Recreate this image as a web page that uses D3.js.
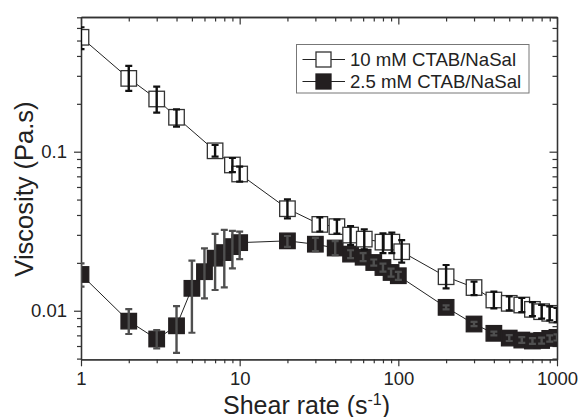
<!DOCTYPE html>
<html><head><meta charset="utf-8">
<script src="https://cdn.jsdelivr.net/npm/d3@7"></script>
<style>body{margin:0;background:#fff}svg{display:block}text{font-family:Arial,"Liberation Sans",sans-serif;fill:#222}</style>
</head><body><svg id="c" width="580" height="417"></svg>
<script>
const shearOpen = [1,2,3,4,7,9,10,20,32,41,50,61,80,91,105,200,300,400,500,600,700,800,900,1000];
const viscOpen = [0.524,0.289,0.2145,0.1646,0.1013,0.0825,0.0724,0.0438,0.0349,0.0338,0.0299,0.0282,0.0270,0.0270,0.0235,0.01636,0.01399,0.01168,0.01113,0.01086,0.0102,0.00986,0.00963,0.0094];
const errLowOpen = [0.441,0.241,0.176,0.1437,0.0930,0.0745,0.0648,0.0381,0.0315,0.0305,0.0259,0.0243,0.0230,0.0230,0.02004,0.01383,0.01255,0.01035,0.01006,0.00981,0.00926,0.00891,0.0087,0.00849];
const errHighOpen = [0.606,0.346,0.2564,0.1848,0.1102,0.0913,0.0805,0.0502,0.0386,0.0374,0.0341,0.0325,0.0307,0.0310,0.0278,0.01939,0.01522,0.01317,0.01232,0.01202,0.01134,0.0109,0.01066,0.0104];

const shearFilled = [1,2,3,4,5,6,7,8,9,10,20,30,40,50,60,70,80,90,100,200,300,400,500,600,700,800,900,1000];
const viscFilled = [0.0169,0.0086,0.00664,0.00804,0.01383,0.0176,0.0214,0.0232,0.0253,0.0268,0.0275,0.0262,0.0248,0.0227,0.0217,0.0201,0.0187,0.0174,0.0166,0.0105,0.00825,0.00721,0.00673,0.00654,0.00645,0.0065,0.0067,0.0068];
const errLowFilled = [0.01416,0.00714,0.0058,0.00544,0.00727,0.01197,0.0135,0.01404,0.01848,0.02114,0.0252,0.0237,0.0224,0.0214,0.0205,0.0192,0.01764,0.0164,0.01564,0.0102,0.0080,0.0070,0.00645,0.00627,0.00618,0.00622,0.0064,0.0065];
const errHighFilled = [0.01987,0.01025,0.00756,0.0107,0.02063,0.0247,0.0304,0.0322,0.0318,0.0314,0.0295,0.0287,0.0274,0.0240,0.0230,0.0210,0.0198,0.0184,0.01756,0.0108,0.0085,0.0074,0.00703,0.00683,0.00673,0.00678,0.0070,0.0071];

const xMajorTicks = [1,10,100,1000];
const xTickLabels = ["1","10","100","1000"];
const yMajorTicks = [0.01,0.1];
const yTickLabels = ["0.01","0.1"];
const seriesNames = ["10 mM CTAB/NaSal","2.5 mM CTAB/NaSal"];

const L=81, R=557, T=17, B=359.3;
const svg = d3.select("#c");
const x = d3.scaleLog().domain([1,1000]).range([L,R]);
const y = d3.scaleLog().domain([0.00495,0.703]).range([B,T]);

const xMinor = x.ticks().filter(v=>!xMajorTicks.some(m=>Math.abs(m-v)<1e-9));
const yMinor = y.ticks().filter(v=>!yMajorTicks.some(m=>Math.abs(m-v)<1e-12));

svg.append("defs").append("clipPath").attr("id","plot").append("rect")
  .attr("x",L).attr("y",T).attr("width",R-L).attr("height",B-T);

const axisColor="#333";
function styleAxis(g){
  g.select(".domain").attr("stroke",axisColor).attr("stroke-width",1.3);
  g.selectAll(".tick line").attr("stroke",axisColor).attr("stroke-width",1.2);
  g.selectAll(".tick text").style("font-size","18.5px").attr("fill","#222");
}
// bottom
svg.append("g").attr("transform",`translate(0,${B})`)
  .call(d3.axisBottom(x).tickValues(xMinor).tickSize(4).tickSizeOuter(0).tickFormat(""))
  .call(styleAxis);
svg.append("g").attr("transform",`translate(0,${B})`)
  .call(d3.axisBottom(x).tickValues(xMajorTicks).tickSize(7).tickSizeOuter(0).tickPadding(6)
    .tickFormat((d,i)=>xTickLabels[i]))
  .call(styleAxis);
// top
svg.append("g").attr("transform",`translate(0,${T})`)
  .call(d3.axisTop(x).tickValues(xMinor).tickSize(-4.5).tickSizeOuter(0).tickFormat(""))
  .call(styleAxis);
svg.append("g").attr("transform",`translate(0,${T})`)
  .call(d3.axisTop(x).tickValues(xMajorTicks).tickSize(-7.5).tickSizeOuter(0).tickFormat(""))
  .call(styleAxis);
// left
svg.append("g").attr("transform",`translate(${L},0)`)
  .call(d3.axisLeft(y).tickValues(yMinor).tickSize(4).tickSizeOuter(0).tickFormat(""))
  .call(styleAxis);
svg.append("g").attr("transform",`translate(${L},0)`)
  .call(d3.axisLeft(y).tickValues(yMajorTicks).tickSize(7).tickSizeOuter(0).tickPadding(7)
    .tickFormat((d,i)=>yTickLabels[i]))
  .call(styleAxis);
// right
svg.append("g").attr("transform",`translate(${R},0)`)
  .call(d3.axisRight(y).tickValues(yMinor).tickSize(-4.5).tickSizeOuter(0).tickFormat(""))
  .call(styleAxis);
svg.append("g").attr("transform",`translate(${R},0)`)
  .call(d3.axisRight(y).tickValues(yMajorTicks).tickSize(-7.5).tickSizeOuter(0).tickFormat(""))
  .call(styleAxis);

const plot = svg.append("g").attr("clip-path","url(#plot)");
const line = d3.line().x(d=>x(d.s)).y(d=>y(d.v));
const MS=15.5, CAP=3.5;

function drawSeries(sh,vi,lo,hi,opts){
  const data = sh.map((s,i)=>({s,v:vi[i],lo:lo[i],hi:hi[i]}));
  plot.append("path").datum(data).attr("d",line).attr("fill","none")
    .attr("stroke","#222").attr("stroke-width",1);
  plot.selectAll(null).data(data).enter().append("rect")
    .attr("x",d=>x(d.s)-MS/2).attr("y",d=>y(d.v)-MS/2)
    .attr("width",MS).attr("height",MS)
    .attr("fill",opts.fill).attr("stroke",opts.stroke).attr("stroke-width",1.3);
  const eb = plot.selectAll(null).data(data).enter().append("g")
    .attr("stroke",opts.err).attr("fill","none");
  eb.append("line").attr("x1",d=>x(d.s)).attr("x2",d=>x(d.s))
    .attr("y1",d=>y(d.lo)).attr("y2",d=>y(d.hi)).attr("stroke-width",2.4);
  eb.append("line").attr("x1",d=>x(d.s)-CAP).attr("x2",d=>x(d.s)+CAP)
    .attr("y1",d=>y(d.lo)).attr("y2",d=>y(d.lo)).attr("stroke-width",2.2);
  eb.append("line").attr("x1",d=>x(d.s)-CAP).attr("x2",d=>x(d.s)+CAP)
    .attr("y1",d=>y(d.hi)).attr("y2",d=>y(d.hi)).attr("stroke-width",2.2);
}
drawSeries(shearFilled,viscFilled,errLowFilled,errHighFilled,{fill:"#231f20",stroke:"#231f20",err:"#4f4f4f"});
drawSeries(shearOpen,viscOpen,errLowOpen,errHighOpen,{fill:"#fff",stroke:"#333",err:"#111"});

// legend
const lg = svg.append("g");
lg.append("rect").attr("x",296.5).attr("y",44.5).attr("width",232.5).attr("height",48.5)
  .attr("fill","#fff").attr("stroke","#777").attr("stroke-width",1);
const rows=[{y:59.5,fill:"#fff",stroke:"#333"},{y:81.5,fill:"#231f20",stroke:"#231f20"}];
rows.forEach((r,i)=>{
  lg.append("line").attr("x1",302.5).attr("x2",345).attr("y1",r.y).attr("y2",r.y).attr("stroke","#222").attr("stroke-width",1);
  lg.append("rect").attr("x",323.5-7.5).attr("y",r.y-7.5).attr("width",15).attr("height",15)
    .attr("fill",r.fill).attr("stroke",r.stroke).attr("stroke-width",1.3);
  lg.append("text").attr("x",350).attr("y",r.y+6.5).style("font-size","18.6px").text(seriesNames[i]);
});

// axis titles
const xt = svg.append("text").attr("x",223).attr("y",413.5).style("font-size","25px");
xt.append("tspan").text("Shear rate (s");
xt.append("tspan").attr("dy",-9).style("font-size","16px").text("-1");
xt.append("tspan").attr("dy",9).text(")");
svg.append("text").attr("transform","translate(33,189) rotate(-90)").attr("text-anchor","middle")
  .style("font-size","25.5px").text("Viscosity (Pa.s)");
</script></body></html>
